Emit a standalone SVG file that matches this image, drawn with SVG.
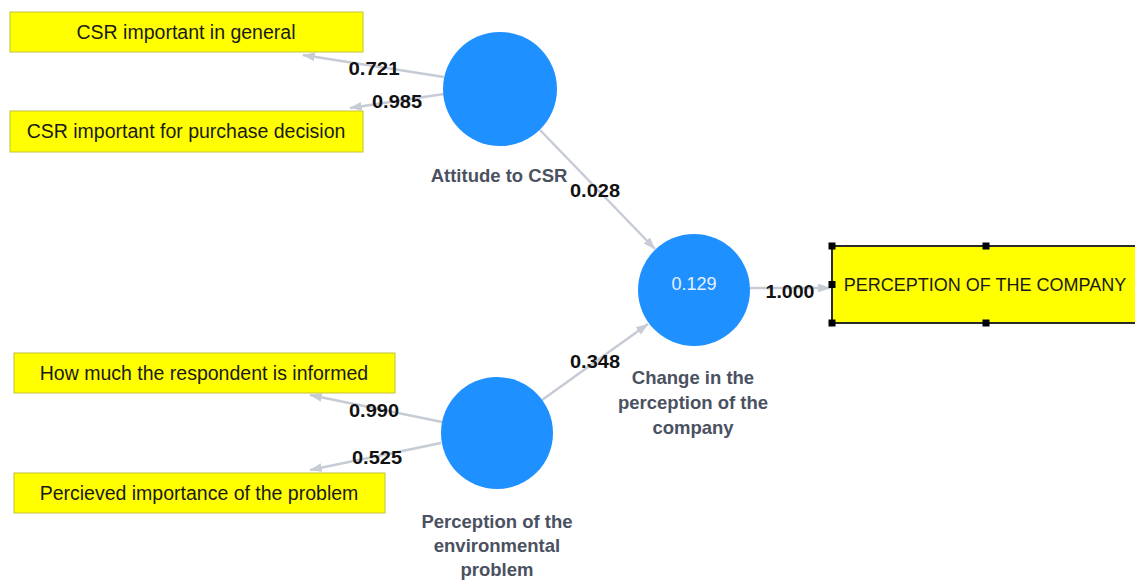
<svg xmlns="http://www.w3.org/2000/svg" width="1135" height="585" viewBox="0 0 1135 585">
  <style>
    .ind { fill: #ffff00; stroke: #c2c23a; stroke-width: 1; }
    .indtxt { font-family: "Liberation Sans", Arial, sans-serif; font-size: 19.5px; fill: #1a1a1a; text-anchor: middle; }
    .lv { fill: #1e90ff; }
    .lvtxt { font-family: "Liberation Sans", Arial, sans-serif; font-size: 18.5px; font-weight: bold; fill: #4a5161; text-anchor: middle; }
    .r2 { font-family: "Liberation Sans", Arial, sans-serif; font-size: 18px; fill: #e6f0ff; text-anchor: middle; }
    .edge { stroke: #c6cbd6; stroke-width: 2.5; fill: none; marker-end: url(#arr); }
    .coef { font-family: "Liberation Sans", Arial, sans-serif; font-size: 18px; font-weight: bold; fill: #111; text-anchor: middle; }
    .handle { fill: #000; }
  </style>
  <defs>
    <!-- slim filled arrowhead for path coefficients and loadings -->
    <marker id="arr" viewBox="0 0 10 7" refX="9.5" refY="3.5" markerWidth="5" markerHeight="3.5" orient="auto" markerUnits="strokeWidth">
      <path d="M0,0 L10,3.5 L0,7 z" fill="#c6cbd6"/>
    </marker>
  </defs>

  <!-- connectors -->
  <g id="connectors">
    <line class="edge" x1="444" y1="77" x2="303" y2="55"/>
    <line class="edge" x1="444" y1="94" x2="350" y2="108"/>
    <line class="edge" x1="540" y1="130" x2="655" y2="249"/>
    <line class="edge" x1="542" y1="400" x2="648" y2="324"/>
    <line class="edge" x1="442" y1="422" x2="310" y2="395"/>
    <line class="edge" x1="441" y1="443" x2="310" y2="470"/>
    <line class="edge" x1="750" y1="288" x2="830" y2="288"/>
    <text class="coef" x="374" y="75" textLength="51" lengthAdjust="spacingAndGlyphs">0.721</text>
    <text class="coef" x="397" y="108" textLength="50" lengthAdjust="spacingAndGlyphs">0.985</text>
    <text class="coef" x="595" y="197" textLength="50" lengthAdjust="spacingAndGlyphs">0.028</text>
    <text class="coef" x="595" y="368" textLength="50" lengthAdjust="spacingAndGlyphs">0.348</text>
    <text class="coef" x="374" y="417" textLength="50" lengthAdjust="spacingAndGlyphs">0.990</text>
    <text class="coef" x="377" y="464" textLength="50" lengthAdjust="spacingAndGlyphs">0.525</text>
    <text class="coef" x="790" y="298" textLength="49" lengthAdjust="spacingAndGlyphs">1.000</text>
  </g>

  <!-- indicators -->
  <g id="ind-csr-general">
    <rect class="ind" x="10" y="12" width="353" height="40"/>
    <text class="indtxt" x="186" y="39">CSR important in general</text>
  </g>
  <g id="ind-csr-purchase">
    <rect class="ind" x="10" y="111" width="353" height="41"/>
    <text class="indtxt" x="186" y="138">CSR important for purchase decision</text>
  </g>
  <g id="ind-informed">
    <rect class="ind" x="14" y="353" width="381" height="40"/>
    <text class="indtxt" x="204" y="380">How much the respondent is informed</text>
  </g>
  <g id="ind-importance">
    <rect class="ind" x="14" y="473" width="371" height="40"/>
    <text class="indtxt" x="199" y="500">Percieved importance of the problem</text>
  </g>
  <g id="ind-perception-company">
    <rect x="832" y="246" width="310" height="77" fill="#ffff00" stroke="#2a2a2a" stroke-width="2"/>
    <text class="indtxt" x="985" y="291" style="font-size:18px">PERCEPTION OF THE COMPANY</text>
    <rect class="handle" x="828.5" y="242.5" width="7" height="7"/>
    <rect class="handle" x="982.5" y="242.5" width="7" height="7"/>
    <rect class="handle" x="828.5" y="281" width="7" height="7"/>
    <rect class="handle" x="828.5" y="319.5" width="7" height="7"/>
    <rect class="handle" x="982.5" y="319.5" width="7" height="7"/>
  </g>

  <!-- latent variables -->
  <g id="lv-attitude">
    <circle class="lv" cx="500" cy="89" r="57"/>
    <text class="lvtxt" x="499" y="182">Attitude to CSR</text>
  </g>
  <g id="lv-change">
    <circle class="lv" cx="694" cy="290" r="56"/>
    <text class="r2" x="694" y="290">0.129</text>
    <text class="lvtxt" x="693" y="384">Change in the</text>
    <text class="lvtxt" x="693" y="409">perception of the</text>
    <text class="lvtxt" x="693" y="434">company</text>
  </g>
  <g id="lv-environment">
    <circle class="lv" cx="497" cy="433" r="56"/>
    <text class="lvtxt" x="497" y="528">Perception of the</text>
    <text class="lvtxt" x="497" y="552">environmental</text>
    <text class="lvtxt" x="497" y="576">problem</text>
  </g>
</svg>
